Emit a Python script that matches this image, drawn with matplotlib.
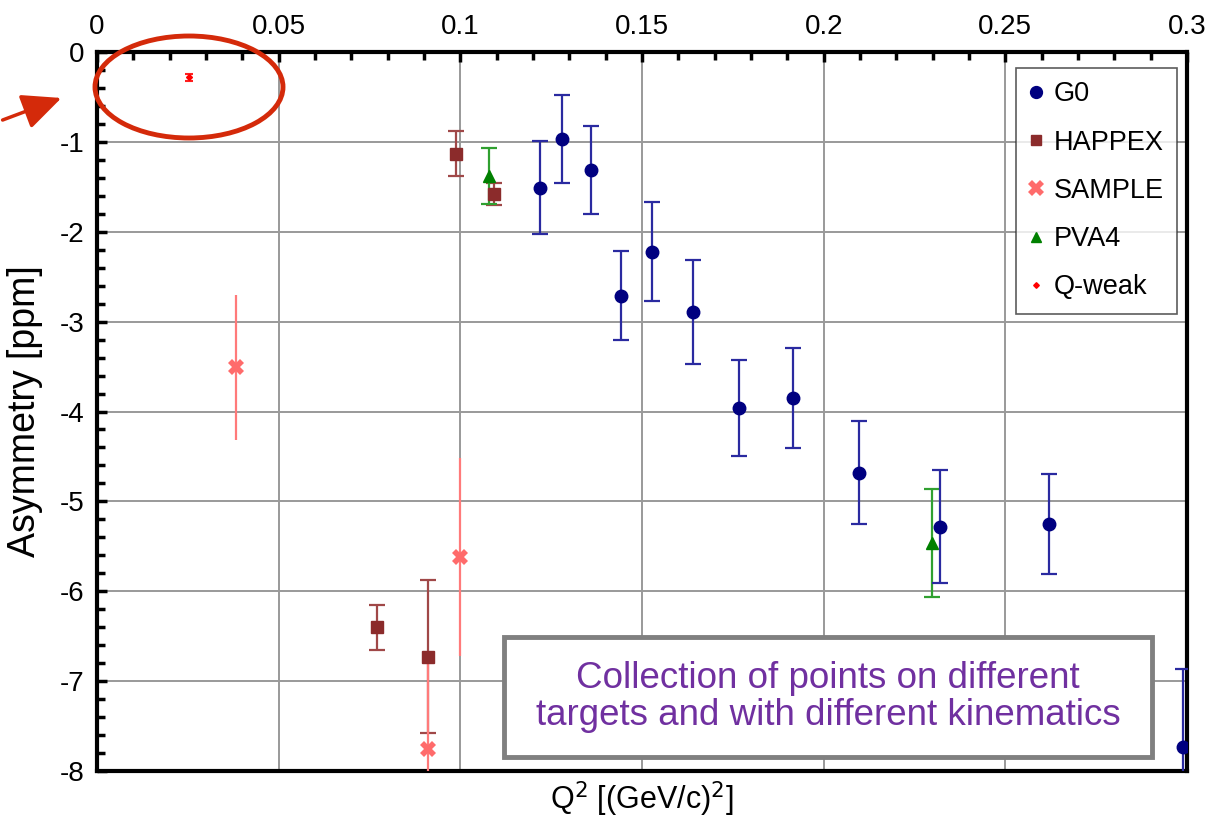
import matplotlib as mpl
import matplotlib.pyplot as plt
from matplotlib.patches import Ellipse, FancyArrowPatch, Rectangle
from matplotlib.ticker import MultipleLocator

# G0
g0_q2 = [0.1219, 0.1280, 0.1360, 0.1442, 0.1528, 0.1640, 0.1767, 0.1916, 0.2097, 0.2320, 0.2620, 0.2990]
g0_a = [-1.51, -0.97, -1.31, -2.71, -2.22, -2.89, -3.96, -3.85, -4.68, -5.28, -5.25, -7.73]
g0_err = [0.52, 0.49, 0.49, 0.50, 0.55, 0.58, 0.53, 0.56, 0.57, 0.63, 0.56, 0.87]

# HAPPEX
happex_q2 = [0.0771, 0.0911, 0.0988, 0.1093]
happex_a = [-6.40, -6.73, -1.13, -1.58]
happex_err = [0.25, 0.85, 0.25, 0.12]

# SAMPLE
sample_q2 = [0.0383, 0.0911, 0.0999]
sample_a = [-3.51, -7.76, -5.62]
sample_err = [0.81, 1.00, 1.10]

# PVA4
pva4_q2 = [0.1079, 0.2298]
pva4_a = [-1.38, -5.46]
pva4_err = [0.31, 0.60]

# Q-weak
qweak_q2 = [0.0253]
qweak_a = [-0.28]
qweak_err = [0.04]

mpl.rcParams.update({
    "font.family": ["Liberation Sans", "DejaVu Sans"],
    "axes.unicode_minus": False,
})

fig = plt.figure(figsize=(12.13, 8.26), dpi=100)
ax = fig.add_axes([97 / 1213, 1 - 771 / 826, 1090 / 1213, 719 / 826])

ax.set_xlim(0, 0.3)
ax.set_ylim(-8, 0)
ax.grid(True, color="#999999", lw=1.4, zorder=0)
ax.set_axisbelow(True)

ax.xaxis.set_major_locator(MultipleLocator(0.05))
ax.xaxis.set_minor_locator(MultipleLocator(0.01))
ax.yaxis.set_major_locator(MultipleLocator(1))
ax.yaxis.set_minor_locator(MultipleLocator(0.2))
ax.xaxis.tick_top()
ax.tick_params(axis="x", which="both", direction="in", top=True, bottom=False,
               labelsize=20, pad=9)
ax.tick_params(axis="y", which="both", direction="in", left=True, right=False,
               labelsize=20, pad=9)
ax.tick_params(which="major", length=7, width=2.5)
ax.tick_params(which="minor", length=6, width=2.5)
ax.set_xticks([0, 0.05, 0.1, 0.15, 0.2, 0.25, 0.3])
ax.set_xticklabels(["0", "0.05", "0.1", "0.15", "0.2", "0.25", "0.3"])
for s in ax.spines.values():
    s.set_linewidth(3)

ax.set_ylabel("Asymmetry [ppm]", fontsize=27, labelpad=12)
ax.set_xlabel("Q$^2$ [(GeV/c)$^2$]", fontsize=22, labelpad=6)
ax.xaxis.set_label_position("bottom")

common = dict(ls="none", capsize=6, elinewidth=1.6, capthick=1.6, zorder=3)
ax.errorbar(happex_q2, happex_a, yerr=happex_err, fmt="s", color="#8b2b2b",
            ecolor="#a04848", ms=8, label="HAPPEX", **common)
ax.errorbar(sample_q2, sample_a, yerr=sample_err, fmt="X", color="#ff6b6b",
            ecolor="#ff7a7a", ms=12, mew=0, label="SAMPLE", **common)
ax.errorbar(pva4_q2, pva4_a, yerr=pva4_err, fmt="^", color="#008000",
            ecolor="#30a030", ms=8, label="PVA4", **common)
ax.errorbar(g0_q2, g0_a, yerr=g0_err, fmt="o", color="#000080",
            ecolor="#2a2aa0", ms=9, label="G0", **common)
ax.errorbar(qweak_q2, qweak_a, yerr=qweak_err, fmt="D", color="#ff0000",
            ecolor="#ff2020", ms=3, capsize=3, elinewidth=1.5, capthick=1.5,
            ls="none", zorder=3, label="Q-weak")

handles, labels = ax.get_legend_handles_labels()
order = [labels.index(n) for n in ["G0", "HAPPEX", "SAMPLE", "PVA4", "Q-weak"]]
leg = ax.legend([handles[i][0] for i in order], [labels[i] for i in order],
                loc="upper right", bbox_to_anchor=(0.991, 0.978), borderaxespad=0,
                fontsize=19.5, frameon=True, fancybox=False, edgecolor="#333333",
                handlelength=0.5, handletextpad=0.4, labelspacing=0.82,
                borderpad=0.5, markerscale=0.95)
leg.get_frame().set_linewidth(1.2)

# annotation box
ax.add_patch(Rectangle((0.3734, 0.0195), 0.5945, 0.1669, transform=ax.transAxes,
                       fc="white", ec="#808080", lw=3.5, zorder=6))
ax.text(0.6706, 0.103,
        "Collection of points on different\ntargets and with different kinematics",
        transform=ax.transAxes, ha="center", va="center", fontsize=26.5,
        color="#7030a0", linespacing=1.05, zorder=7)

# red ellipse around the Q-weak point and arrow pointing at it
ell = Ellipse((189 / 1213, 1 - 87 / 826), 188 / 1213, 102 / 826,
              transform=fig.transFigure, fill=False, ec="#d42a0a", lw=3.5,
              zorder=10, clip_on=False)
fig.patches.append(ell)
arr = FancyArrowPatch((0 / 1213, 1 - 121 / 826), (64 / 1213, 1 - 97 / 826),
                      transform=fig.transFigure,
                      arrowstyle="-|>,head_length=24,head_width=11",
                      color="#d42a0a", lw=2.5, mutation_scale=1)
fig.patches.append(arr)

fig.savefig("out.png", dpi=100)
